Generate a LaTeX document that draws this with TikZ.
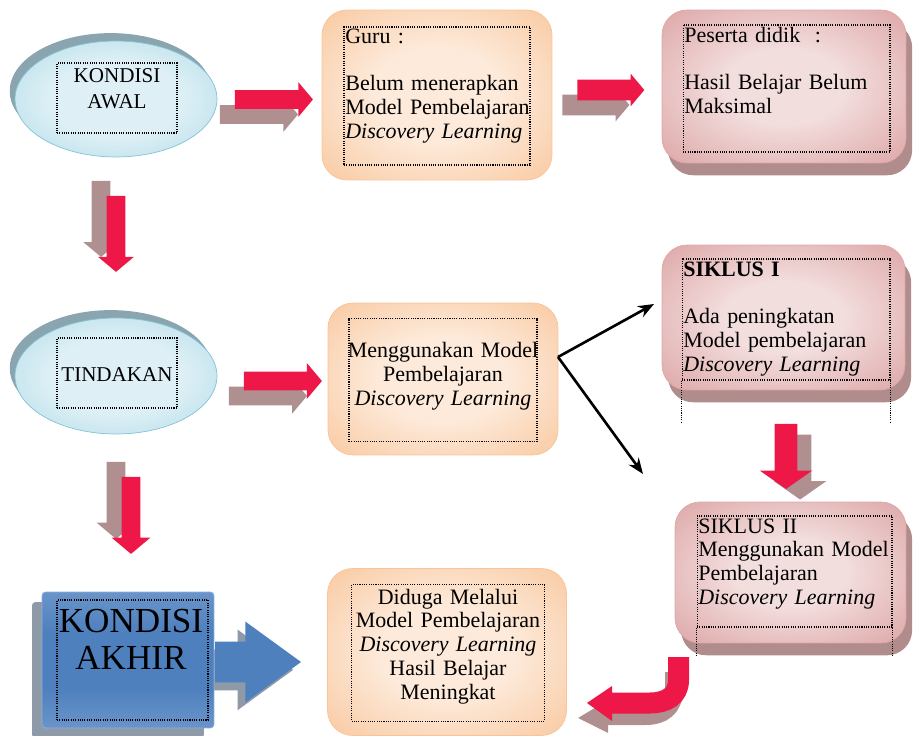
\documentclass[tikz,border=0pt]{standalone}
\usepackage{fontspec}
\setmainfont{Liberation Serif}[WordSpace=0.7]
\usetikzlibrary{shapes.geometric,shapes.arrows,shadows,arrows.meta}

\definecolor{merah}{RGB}{237,24,72}
\definecolor{bayang}{RGB}{176,143,145}
\definecolor{elipsMuda}{RGB}{222,240,246}
\definecolor{elipsTepi}{RGB}{148,204,221}
\definecolor{elipsGaris}{RGB}{130,196,214}
\definecolor{elipsBayang}{RGB}{138,165,175}
\definecolor{oranyeMuda}{RGB}{253,234,218}
\definecolor{oranyeTepi}{RGB}{246,180,124}
\definecolor{oranyeGaris}{RGB}{249,196,152}
\definecolor{merahMuda}{RGB}{243,222,222}
\definecolor{merahTepi}{RGB}{208,132,132}
\definecolor{merahGaris}{RGB}{222,168,168}
\definecolor{merahBayang}{RGB}{176,140,140}
\definecolor{biruAtas}{RGB}{152,182,220}
\definecolor{biruTengah}{RGB}{78,128,190}
\definecolor{biruGaris}{RGB}{140,176,222}
\definecolor{biruBayang}{RGB}{142,154,168}

\pgfdeclareradialshading{sinarelips}{\pgfpoint{0bp}{0bp}}{color(0bp)=(elipsMuda); color(16bp)=(elipsMuda); color(50bp)=(elipsTepi)}
\pgfdeclareradialshading{sinaroranye}{\pgfpoint{0bp}{0bp}}{color(0bp)=(oranyeMuda); color(14bp)=(oranyeMuda); color(50bp)=(oranyeTepi)}
\pgfdeclareradialshading{sinarmerah}{\pgfpoint{0bp}{0bp}}{color(0bp)=(merahMuda); color(12bp)=(merahMuda); color(50bp)=(merahTepi)}
\pgfdeclareverticalshading{sinarbiru}{100bp}{color(0bp)=(biruAtas); color(40bp)=(biruTengah); color(60bp)=(biruTengah); color(100bp)=(biruAtas)}

\tikzset{
	elips/.style={ellipse, draw=elipsGaris, shading=sinarelips, minimum width=4.04cm, minimum height=2.32cm, general shadow={fill=elipsBayang, shadow xshift=-3pt, shadow yshift=4.5pt}},
	kotakoranye/.style={rectangle, rounded corners=0.5cm, draw=oranyeGaris, shading=sinaroranye},
	kotakmerah/.style={rectangle, rounded corners=0.5cm, draw=merahGaris, shading=sinarmerah, general shadow={fill=merahBayang, shadow xshift=3.5pt, shadow yshift=-7pt}},
	kotakbiru/.style={rectangle, rounded corners=2pt, draw=biruGaris, shading=sinarbiru, general shadow={fill=biruBayang, shadow xshift=-5.7pt, shadow yshift=-5.7pt}},
	bingkai/.style={draw, line width=0.6pt, dash pattern=on 0.6pt off 0.7pt, inner sep=0pt},
	teks/.style={inner sep=0pt, font=\fontsize{12.5}{13.6}\selectfont, text width=4.2cm},
	panah/.style={single arrow, fill=merah, inner xsep=0pt, inner ysep=0.18cm, minimum width=0pt, single arrow head extend=0.16cm, single arrow tip angle=100},
	panahturun/.style={panah, shape border rotate=270, inner xsep=0.18cm, inner ysep=0pt},
	bayangkiri/.style={general shadow={fill=bayang, shadow xshift=-8.5pt, shadow yshift=-8.5pt}},
	bayangatas/.style={general shadow={fill=bayang, shadow xshift=-8.5pt, shadow yshift=8.5pt}},
	bayangkanan/.style={general shadow={fill=bayang, shadow xshift=8pt, shadow yshift=-6pt}},
	garis/.style={line width=1.5pt, -{Stealth[length=9pt,width=7pt]}}
}

\begin{document}
\begin{tikzpicture}[x=0.02cm,y=-0.02cm]
	\useasboundingbox (0,0) rectangle (913,736);

	\node[elips] (awal) at (116,99) {};
	\node[elips] (tindakan) at (116,376) {};
	\node[bingkai, minimum width=2.4cm, minimum height=1.4cm] (awal bingkai) at (117,98) {};
	\node[bingkai, minimum width=2.4cm, minimum height=1.4cm] (tindakan bingkai) at (117,373) {};
	\node[teks, font=\fontsize{12}{14.7}\selectfont, text width=2.6cm, align=center, anchor=base] (awal teks) at (117,83) {KONDISI\\AWAL};
	\node[teks, font=\fontsize{12}{14.7}\selectfont, text width=2.6cm, align=center, anchor=base] (tindakan teks) at (117,382) {TINDAKAN};

	\node[kotakoranye, minimum width=4.6cm, minimum height=3.4cm] (guru) at (437,95) {};
	\node[bingkai, minimum width=3.72cm, minimum height=2.76cm] (guru bingkai) at (437,96) {};
	\node[teks, align=left, anchor=base west] (guru teks) at (345,44) {Guru :\\[13pt]Belum menerapkan\\Model Pembelajaran\\\textit{Discovery Learning}};

	\node[kotakoranye, minimum width=4.6cm, minimum height=3.04cm] (guna) at (443,379) {};
	\node[bingkai, minimum width=3.76cm, minimum height=2.46cm] (guna bingkai) at (443,380) {};
	\node[teks, align=center, anchor=base] (guna teks) at (443,358) {Menggunakan Model\\Pembelajaran\\\textit{Discovery Learning}};

	\node[kotakoranye, minimum width=4.78cm, minimum height=3.34cm] (duga) at (447,652) {};
	\node[bingkai, minimum width=3.86cm, minimum height=2.74cm] (duga bingkai) at (448,653) {};
	\node[teks, align=center, anchor=base] (duga teks) at (448,604) {Diduga Melalui\\Model Pembelajaran\\\textit{Discovery Learning}\\Hasil Belajar\\Meningkat};

	\node[kotakmerah, minimum width=4.88cm, minimum height=3.06cm] (peserta) at (784,86.5) {};
	\node[bingkai, minimum width=4.14cm, minimum height=2.54cm] (peserta bingkai) at (786.5,88.5) {};
	\node[teks, align=left, anchor=base west] (peserta teks) at (684,43) {Peserta didik\ \ :\\[13pt]Hasil Belajar Belum\\Maksimal};

	\node[kotakmerah, minimum width=4.86cm, minimum height=2.9cm] (siklus1) at (783.5,317.5) {};
	\node[bingkai, minimum width=4.16cm, minimum height=2.42cm] (siklus1 bingkai) at (786,319.5) {};
	\draw[bingkai] (siklus1 bingkai.south west) -- ++(0,42);
	\draw[bingkai] (siklus1 bingkai.south east) -- ++(0,42);
	\node[teks, align=left, anchor=base west] (siklus1 teks) at (683,277) {\textbf{SIKLUS I}\\[13pt]Ada peningkatan\\Model pembelajaran\\\textit{Discovery Learning}};

	\node[kotakmerah, minimum width=4.62cm, minimum height=2.82cm] (siklus2) at (790.5,572.5) {};
	\node[bingkai, minimum width=3.9cm, minimum height=2.22cm] (siklus2 bingkai) at (794.5,571.5) {};
	\draw[bingkai] (siklus2 bingkai.south west) -- ++(0,28);
	\draw[bingkai] (siklus2 bingkai.south east) -- ++(0,28);
	\node[teks, align=left, anchor=base west] (siklus2 teks) at (698,533) {SIKLUS II\\Menggunakan Model\\Pembelajaran\\\textit{Discovery Learning}};

	\node[single arrow, fill=biruTengah, inner xsep=0pt, inner ysep=0.4cm, minimum width=0pt, minimum height=1.72cm, single arrow head extend=0.4cm, single arrow tip angle=72, general shadow={fill=biruBayang, shadow xshift=-4.5pt, shadow yshift=-4.5pt}] (panah biru) at (244,662) {};
	\node[kotakbiru, minimum width=3.44cm, minimum height=2.72cm] (akhir) at (128,660) {};
	\node[bingkai, minimum width=3.02cm, minimum height=2.4cm] (akhir bingkai) at (132.5,660) {};
	\node[teks, font=\fontsize{20}{21.5}\selectfont, text width=3.2cm, align=center, anchor=base] (akhir teks) at (131,632) {KONDISI\\AKHIR};

	\node[panah, bayangkiri, minimum height=1.56cm] (panah awal) at (270,99.5) {};
	\node[panah, bayangkiri, minimum height=1.34cm, inner ysep=0.2cm, single arrow head extend=0.12cm] (panah guru) at (606.5,90) {};
	\node[panah, bayangkiri, minimum height=1.56cm, single arrow head extend=0.17cm] (panah tindakan) at (279,381) {};
	\node[panahturun, bayangatas, minimum height=1.52cm, single arrow head extend=0.17cm] (panah turun) at (116,230) {};
	\node[panahturun, bayangatas, minimum height=1.54cm, single arrow head extend=0.2cm] (panah akhir turun) at (131,511.5) {};
	\node[panahturun, bayangkanan, minimum height=1.3cm, inner xsep=0.22cm, single arrow head extend=0.3cm, single arrow tip angle=110] (panah siklus) at (786,452.5) {};

	\coordinate (cabang) at (558,357);
	\coordinate (ujung atas) at (654,304);
	\coordinate (ujung bawah) at (643,474);
	\draw[garis] (cabang) -- (ujung atas);
	\draw[garis] (cabang) -- (ujung bawah);

	\coordinate (lengkung) at (678.5,657);
	\draw[bayang, line width=0.36cm] (674,672) -- (674,690) .. controls (674,708) and (662,716) .. (646,716) -- (606,716);
	\fill[bayang] (608,700) -- (608,733) -- (578,718) -- cycle;
	\draw[merah, line width=0.42cm] (lengkung) -- (678.5,680) .. controls (678.5,696) and (666,703) .. (650,703) -- (610,703);
	\fill[merah] (612,686) -- (612,721) -- (587,703) -- cycle;
\end{tikzpicture}
\end{document}
